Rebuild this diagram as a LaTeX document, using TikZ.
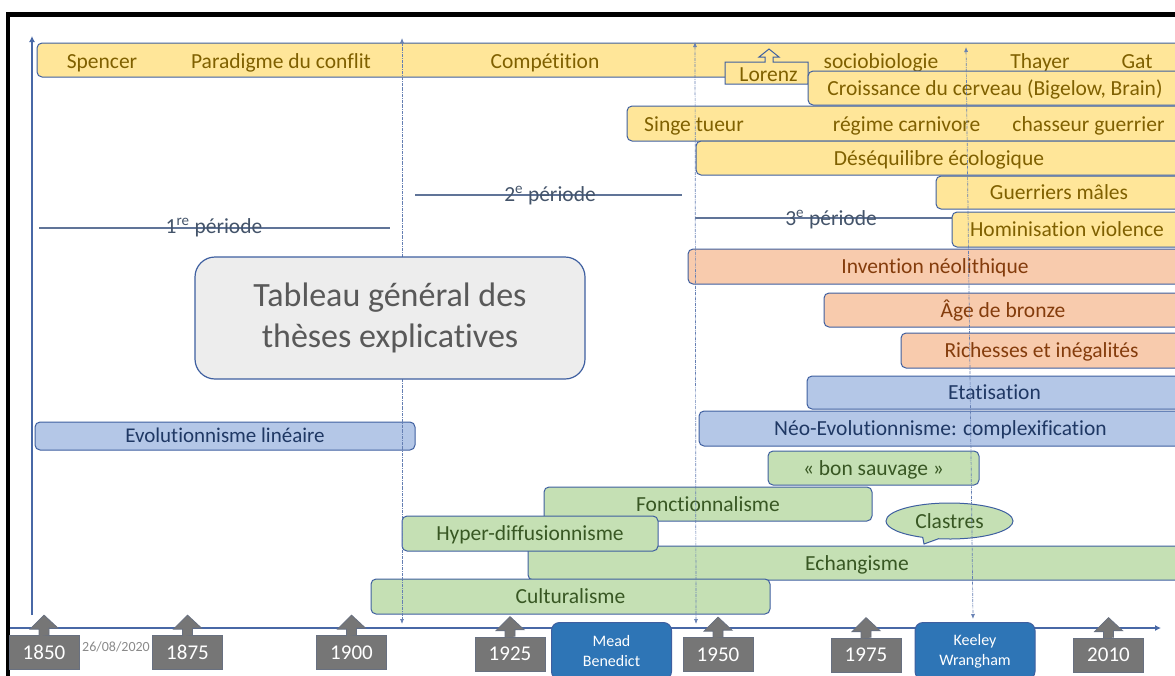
\documentclass[tikz,border=0pt]{standalone}
\usepackage{fontspec}
\setmainfont[Ligatures=NoCommon]{Carlito}
\usetikzlibrary{positioning,arrows.meta,shapes.callouts}
\definecolor{bord}{RGB}{62,95,160}
\definecolor{axe}{RGB}{72,104,166}
\definecolor{jaunebg}{RGB}{255,230,153}
\definecolor{jaunetx}{RGB}{127,96,0}
\definecolor{orangebg}{RGB}{248,203,173}
\definecolor{orangetx}{RGB}{132,60,12}
\definecolor{bleubg}{RGB}{180,199,231}
\definecolor{bleutx}{RGB}{31,56,100}
\definecolor{vertbg}{RGB}{197,224,180}
\definecolor{verttx}{RGB}{56,87,35}
\definecolor{gristx}{RGB}{89,89,89}
\definecolor{grisbg}{RGB}{237,237,237}
\definecolor{annee}{RGB}{118,118,118}
\definecolor{auteur}{RGB}{46,117,182}
\definecolor{periode}{RGB}{68,84,106}
\definecolor{pligne}{RGB}{96,116,152}
\newcommand\barfont{\fontsize{21.5}{24}\selectfont}
\newcommand\anfont{\fontsize{21}{24}\selectfont}
\newcommand\persfont{\fontsize{16}{20}\selectfont}

\begin{document}
\begin{tikzpicture}[x=1pt, y=-1pt,
  bar/.style={draw=bord, line width=1pt, rounded corners=5pt, fill=#1bg, text=#1tx,
              font=\barfont, text height=14pt, text depth=0pt, inner sep=0pt},
  lbl/.style={text=#1tx, font=\barfont, text height=14pt, text depth=0pt, inner sep=0pt},
  an/.style={fill=annee, draw=annee!75!bord, line width=0.8pt, text=white, font=\anfont,
             minimum width=70pt, minimum height=34pt, inner sep=0pt},
  anfl/.style={fill=annee, draw=annee!75!bord, line width=0.8pt},
  pers/.style={fill=auteur, draw=bord, line width=1pt, rounded corners=8pt, text=white,
               font=\persfont, align=center, minimum width=120pt, minimum height=57pt},
  axe/.style={draw=axe, line width=2.6pt},
  pointil/.style={draw=bord!80!white, line width=0.7pt, densely dashdotted,
                  {Latex[length=5pt,width=4pt]}-{Latex[length=5pt,width=4pt]}},
  per/.style={draw=pligne, line width=1.6pt},
  ptx/.style={text=periode, font=\barfont, text height=14pt, text depth=0pt, inner sep=0pt},
]
\useasboundingbox (0,0) rectangle (1175,675);
\clip (0,0) rectangle (1175,675);

\draw[line width=4.5pt] (6,14.5) -- (1185,14.5);
\draw[line width=4pt] (8,12) -- (8,685);

\coordinate (vb) at (32,615);
\coordinate (vh) at (32,36);
\coordinate (hg) at (10,628);
\coordinate (hd) at (1161,628);
\draw[axe, -{Latex[length=6pt,width=6pt]}] (vb) -- (vh);
\draw[axe, -{Latex[length=6pt,width=6pt]}] (hg) -- (hd);

\foreach \an/\cx/\cy in {1850/44/652.5, 1875/187.5/652.5, 1900/351.5/652.5, 1925/510/654,
                         1950/718/654.5, 1975/866/655, 2010/1108.5/655}{
  \node[an] (a\an) at (\cx,\cy) {\an};
  \filldraw[anfl] ([shift={(-5pt,-1pt)}]a\an.north) -- ++(0pt,7pt) -- ++(-9pt,0pt)
    -- ([yshift=20pt]a\an.north) -- ++(14pt,-13pt) -- ++(-9pt,0pt) -- ++(0pt,-7pt);
}
\node[text=annee!85, font=\fontsize{14}{16}\selectfont] (date) at (116,647) {26/08/2020};
\node[pers] (mead) at (611.5,651) {Mead\\Benedict};
\node[pers] (keel) at (975,651) {Keeley\\Wrangham};

\node[bar=jaune, minimum width=1145pt, minimum height=34pt] (conf) at (609.5,60) {};
\node[lbl=jaune] (spen) at (102,61) {Spencer};
\node[lbl=jaune] (para) at (281,61) {Paradigme du conflit};
\node[lbl=jaune] (comp) at (545,61) {Compétition};
\node[lbl=jaune] (soc)  at (881,61) {sociobiologie};
\node[lbl=jaune] (thay) at (1040,61) {Thayer};
\node[lbl=jaune] (gat)  at (1137,61) {Gat};

\filldraw[fill=jaunebg, draw=bord, line width=1pt] (725,84) -- (725,62) -- (765,62) -- (765,57)
  -- (759,57) -- (769,49) -- (779,57) -- (773,57) -- (773,62) -- (808,62) -- (808,84) -- cycle;
\node[lbl=jaune] (lor) at (768.5,74) {Lorenz};

\node[bar=jaune, minimum width=374pt, minimum height=34pt] (crois) at (995,88)
  {Croissance du cerveau (Bigelow, Brain)};
\node[bar=jaune, minimum width=555pt, minimum height=35pt] (singe) at (904.5,123.5) {};
\node[lbl=jaune] (st)  at (694,124) {Singe tueur};
\node[lbl=jaune] (reg) at (906.5,124) {régime carnivore};
\node[lbl=jaune] (cha) at (1088.5,124) {chasseur guerrier};
\node[bar=jaune, minimum width=486pt, minimum height=34pt] (deseq) at (939,158)
  {Déséquilibre écologique};
\node[bar=jaune, minimum width=246pt, minimum height=33pt] (guer) at (1059,192.5)
  {Guerriers mâles};

\coordinate (p3g) at (695,218);
\coordinate (p3d) at (962,218);
\draw[per] (p3g) -- (p3d);
\node[ptx] (per3) at (831,218) {3\textsuperscript{e} période};

\node[bar=jaune, minimum width=230pt, minimum height=35pt] (homi) at (1067,229.5)
  {Hominisation violence};
\node[bar=orange, minimum width=494pt, minimum height=35pt] (neol) at (935,266.5)
  {Invention néolithique};
\node[bar=orange, minimum width=358pt, minimum height=34pt] (bron) at (1003,310)
  {Âge de bronze};
\node[bar=orange, minimum width=281pt, minimum height=35pt] (rich) at (1041.5,350.5)
  {Richesses et inégalités};
\node[bar=bleu, minimum width=375pt, minimum height=33pt] (etat) at (994.5,392.5)
  {Etatisation};
\node[bar=bleu, minimum width=483pt, minimum height=35pt] (neo) at (940.5,428.5)
  {Néo-Evolutionnisme: complexification};
\node[bar=bleu, minimum width=380pt, minimum height=28pt, font=\fontsize{21}{24}\selectfont,
      text height=13.5pt] (evol) at (225,436) {Evolutionnisme linéaire};
\node[bar=vert, minimum width=211pt, minimum height=34pt] (bon) at (873.5,468)
  {« bon sauvage »};
\node[bar=vert, minimum width=328pt, minimum height=34pt] (fonc) at (708,504)
  {Fonctionnalisme};
\node[ellipse callout, draw=bord, line width=1pt, fill=vertbg, text=verttx, font=\barfont,
      minimum width=127pt, minimum height=36pt, inner sep=0pt,
      callout absolute pointer={(924,544)}] (clas) at (949.5,521) {Clastres};
\node[bar=vert, minimum width=658pt, minimum height=34pt] (echa) at (857,563)
  {Echangisme};
\node[bar=vert, minimum width=256pt, minimum height=35pt] (hyp) at (530,533.5)
  {Hyper-diffusionnisme};
\node[bar=vert, minimum width=399pt, minimum height=35pt] (cult) at (570.5,596.5)
  {Culturalisme};

\coordinate (p1g) at (39,228);
\coordinate (p1d) at (390,228);
\draw[per] (p1g) -- (p1d);
\node[ptx] (per1) at (214,226) {1\textsuperscript{re} période};
\coordinate (p2g) at (415,195);
\coordinate (p2d) at (682,195);
\draw[per] (p2g) -- (p2d);
\node[ptx] (per2) at (550,194) {2\textsuperscript{e} période};

\coordinate (d1h) at (402,38);
\coordinate (d1b) at (402,624);
\coordinate (d2h) at (695,42);
\coordinate (d2b) at (696,624);
\coordinate (d3h) at (966,47);
\coordinate (d3b) at (973,619);
\draw[pointil] (d1h) -- (d1b);
\draw[pointil] (d2h) -- (d2b);
\draw[pointil] (d3h) -- (d3b);

\node[fill=grisbg, draw=bord, line width=1.2pt, rounded corners=20pt, minimum width=390pt,
      minimum height=122pt, align=center, text=gristx, font=\fontsize{34}{41}\selectfont]
  (tab) at (390,318) {Tableau général des\\thèses explicatives};
\end{tikzpicture}
\end{document}
